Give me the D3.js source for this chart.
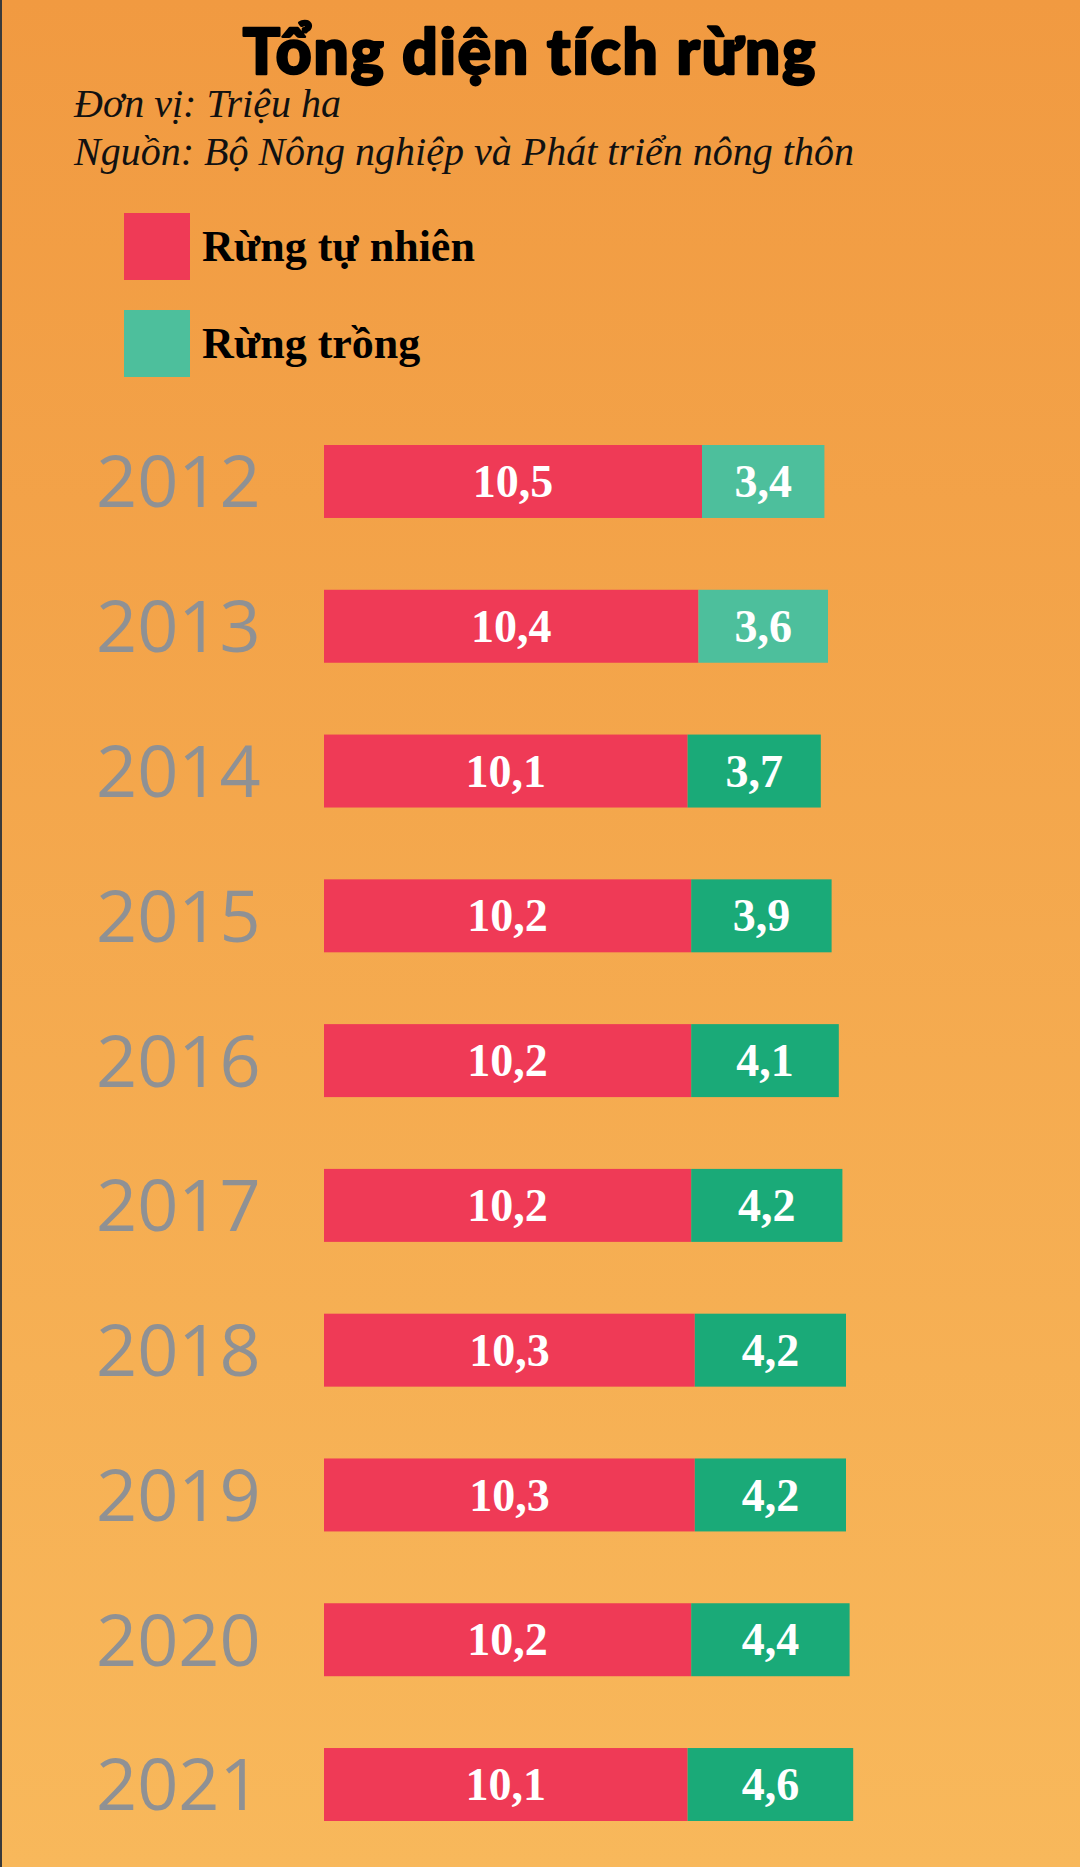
<!DOCTYPE html>
<html>
<head>
<meta charset="utf-8">
<script src="https://cdn.jsdelivr.net/npm/d3@7"></script>
<style>
  html, body { margin: 0; padding: 0; }
  body { width: 1080px; height: 1867px; overflow: hidden; }
</style>
</head>
<body>
<svg id="chart"></svg>
<script>
// data (triệu ha)
const years = ['2012', '2013', '2014', '2015', '2016', '2017', '2018', '2019', '2020', '2021']
const natural = [10.5, 10.4, 10.1, 10.2, 10.2, 10.2, 10.3, 10.3, 10.2, 10.1]
const planted = [3.4, 3.6, 3.7, 3.9, 4.1, 4.2, 4.2, 4.2, 4.4, 4.6]
const seriesNames = ['Rừng tự nhiên', 'Rừng trồng']

const width = 1080, height = 1867

const red = '#ef3a56'
const greenLight = '#4dbf9c'
const greenDark = '#1aaa78'

// decimal comma, as in the original
const fmt = d3.formatLocale({ decimal: ',', thousands: '.', grouping: [3], currency: ['', ''] }).format('.1f')

const svg = d3.select('#chart')
    .attr('width', width)
    .attr('height', height)
    .attr('viewBox', [0, 0, width, height])

// background gradient
const grad = svg.append('defs').append('linearGradient')
    .attr('id', 'bg')
    .attr('x1', 0).attr('y1', 0).attr('x2', 0).attr('y2', 1)
grad.append('stop').attr('offset', '0%').attr('stop-color', '#f19a41')
grad.append('stop').attr('offset', '100%').attr('stop-color', '#f8b85b')

svg.append('rect')
    .attr('width', width).attr('height', height)
    .attr('fill', 'url(#bg)')

svg.append('line')
    .attr('x1', 1).attr('x2', 1).attr('y1', 0).attr('y2', height)
    .attr('stroke', '#3a3a3a').attr('stroke-width', 2)

// title + notes
svg.append('text')
    .attr('x', 530).attr('y', 74)
    .attr('text-anchor', 'middle')
    .attr('font-family', 'Lato, "DejaVu Sans", sans-serif')
    .attr('font-weight', 900)
    .attr('font-size', 62)
    .attr('letter-spacing', 2)
    .attr('fill', '#000')
    .attr('stroke', '#000')
    .attr('stroke-width', 2.5)
    .attr('stroke-linejoin', 'round')
    .text('Tổng diện tích rừng')

const notes = ['Đơn vị: Triệu ha', 'Nguồn: Bộ Nông nghiệp và Phát triển nông thôn']
svg.selectAll('text.note')
    .data(notes)
    .join('text')
    .attr('class', 'note')
    .attr('x', 74)
    .attr('y', (d, i) => 117 + i * 48)
    .attr('font-family', '"Liberation Serif", "Times New Roman", serif')
    .attr('font-style', 'italic')
    .attr('font-size', 40)
    .attr('fill', '#111')
    .text(d => d)

// legend
const legend = svg.selectAll('g.legend')
    .data(seriesNames)
    .join('g')
    .attr('class', 'legend')
    .attr('transform', (d, i) => `translate(124,${213 + i * 97})`)

legend.append('rect')
    .attr('width', 66).attr('height', 67)
    .attr('fill', (d, i) => i === 0 ? red : greenLight)

legend.append('text')
    .attr('x', 78).attr('y', 48)
    .attr('font-family', '"Liberation Serif", "Times New Roman", serif')
    .attr('font-weight', 'bold')
    .attr('font-size', 44)
    .attr('fill', '#000')
    .text(d => d)

// scales
const x = d3.scaleLinear().domain([0, 15]).range([324, 324 + 15 * 36])
const y = d3.scaleBand().domain(years).range([445, 1821]).paddingInner(0.496)

const rows = years.map((yr, i) => ({ year: yr, natural: natural[i], planted: planted[i], i }))

const row = svg.selectAll('g.row')
    .data(rows)
    .join('g')
    .attr('class', 'row')
    .attr('transform', d => `translate(0,${y(d.year)})`)

// year labels
row.append('text')
    .attr('x', 96)
    .attr('y', y.bandwidth() / 2)
    .attr('dy', '0.36em')
    .attr('font-family', '"Open Sans", "Noto Sans", sans-serif')
    .attr('font-weight', 400)
    .attr('font-size', 72)
    .attr('fill', '#8f9194')
    .text(d => d.year)

// natural forest segment
row.append('rect')
    .attr('x', x(0))
    .attr('width', d => x(d.natural) - x(0))
    .attr('height', y.bandwidth())
    .attr('fill', red)

// planted forest segment
row.append('rect')
    .attr('x', d => x(d.natural))
    .attr('width', d => x(d.natural + d.planted) - x(d.natural))
    .attr('height', y.bandwidth())
    .attr('fill', d => d.i < 2 ? greenLight : greenDark)

const valueText = (sel) => sel
    .attr('y', y.bandwidth() / 2)
    .attr('dy', '0.34em')
    .attr('text-anchor', 'middle')
    .attr('font-family', '"Liberation Serif", "Times New Roman", serif')
    .attr('font-weight', 'bold')
    .attr('font-size', 46)
    .attr('fill', '#fff')

row.append('text')
    .call(valueText)
    .attr('x', d => (x(0) + x(d.natural)) / 2)
    .text(d => fmt(d.natural))

row.append('text')
    .call(valueText)
    .attr('x', d => (x(d.natural) + x(d.natural + d.planted)) / 2)
    .text(d => fmt(d.planted))
</script>
</body>
</html>
